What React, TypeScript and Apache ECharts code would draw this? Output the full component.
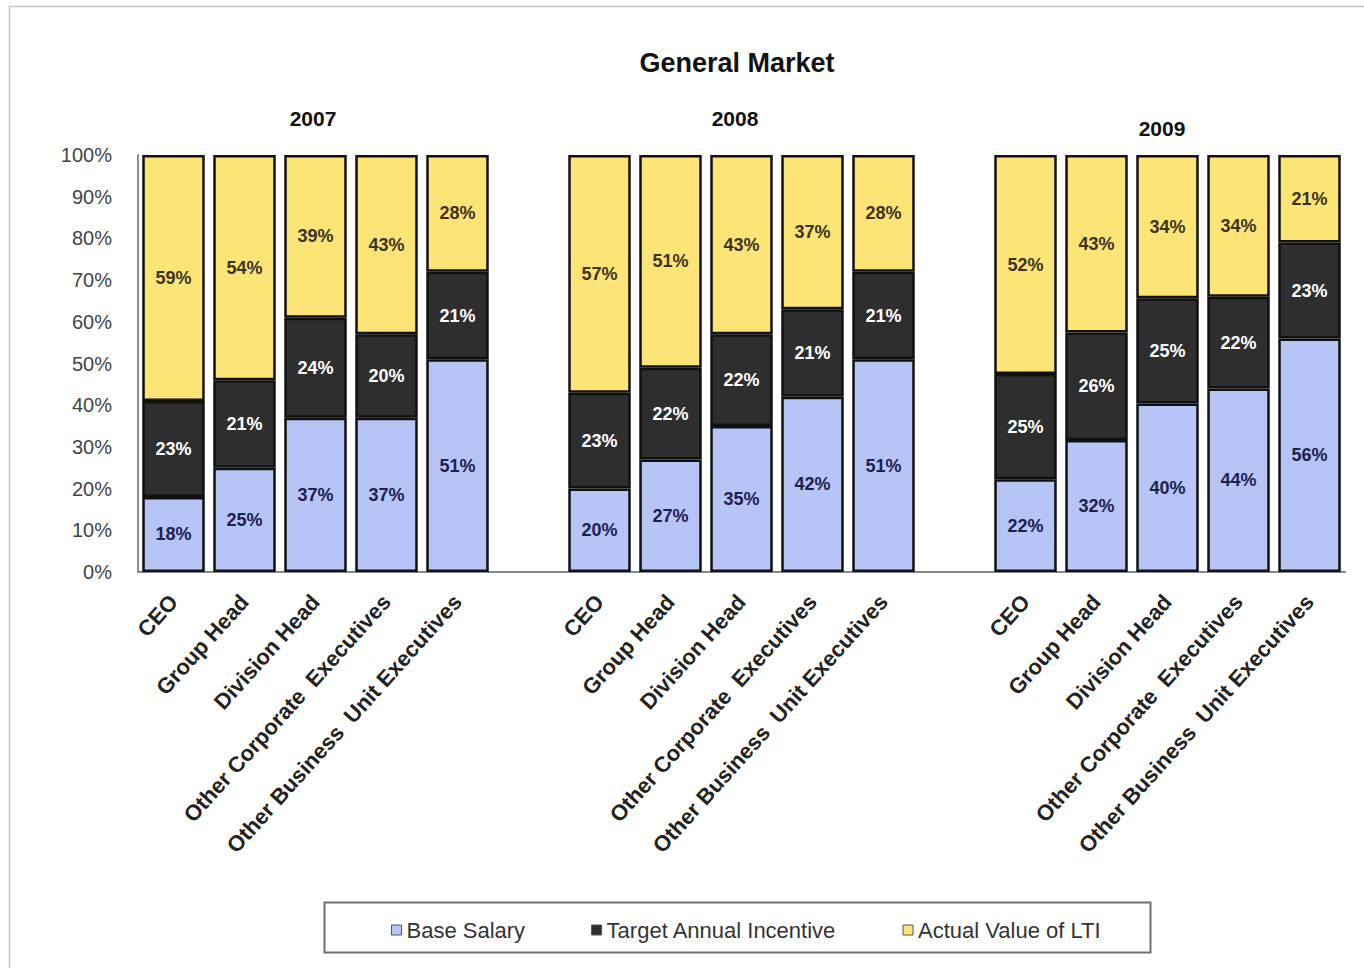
import React, { useEffect, useRef } from "react";
import * as echarts from "echarts";

const years = ["2007", "2008", "2009"];
const roles = [
  "CEO",
  "Group Head",
  "Division Head",
  "Other Corporate  Executives",
  "Other Business  Unit Executives",
];
const seriesNames = ["Base Salary", "Target Annual Incentive", "Actual Value of LTI"];
const baseSalary = [
  [18, 25, 37, 37, 51],
  [20, 27, 35, 42, 51],
  [22, 32, 40, 44, 56],
];
const targetIncentive = [
  [23, 21, 24, 20, 21],
  [23, 22, 22, 21, 21],
  [25, 26, 25, 22, 23],
];
const ltiValue = [
  [59, 54, 39, 43, 28],
  [57, 51, 43, 37, 28],
  [52, 43, 34, 34, 21],
];
const yTicks = [0, 10, 20, 30, 40, 50, 60, 70, 80, 90, 100];

const FONT = "'Liberation Sans', Arial, Helvetica, sans-serif";

export default function App() {
  const ref = useRef<HTMLDivElement>(null);
  useEffect(() => {
    if (!ref.current) return;
    const chart = echarts.init(ref.current, null, { renderer: "svg" });

    const categories: string[] = [];
    const groups = [baseSalary, targetIncentive, ltiValue];
    const seriesData: any[][] = [[], [], []];
    years.forEach((y, yi) => {
      roles.forEach((r, ri) => {
        categories.push(r);
        const sum = baseSalary[yi][ri] + targetIncentive[yi][ri] + ltiValue[yi][ri];
        groups.forEach((g, si) => {
          seriesData[si].push({ value: (g[yi][ri] * 100) / sum, raw: g[yi][ri] });
        });
      });
      if (yi < years.length - 1) {
        categories.push("");
        seriesData.forEach((s) => s.push("-"));
      }
    });

    const colors = ["#b7c5f6", "#2e2e2e", "#fde477"];
    const labelColors = ["#1d2150", "#ffffff", "#3b3520"];

    const series = seriesNames.map((name, si) => ({
      name,
      type: "bar",
      stack: "total",
      barCategoryGap: "12%",
      data: seriesData[si],
      itemStyle: { color: colors[si], borderColor: "#111", borderWidth: 2.5 },
      label: {
        show: true,
        position: "inside",
        formatter: (p: any) => (p.data && p.data.raw != null ? p.data.raw + "%" : ""),
        color: labelColors[si],
        fontFamily: FONT,
        fontWeight: "bold",
        fontSize: 18,
      },
    }));

    chart.setOption({
      animation: false,
      backgroundColor: "#ffffff",
      title: {
        text: "General Market",
        left: 732,
        top: 44,
        textAlign: "center",
        textStyle: { fontFamily: FONT, fontWeight: "bold", fontSize: 27, color: "#111" },
      },
      grid: { left: 138, right: 19, top: 155, bottom: 396, containLabel: false },
      xAxis: {
        type: "category",
        data: categories,
        axisLine: { show: true, lineStyle: { color: "#888", width: 2 } },
        axisTick: { show: false },
        axisLabel: {
          interval: 0,
          rotate: 48,
          margin: 26,
          fontFamily: FONT,
          fontWeight: "bold",
          fontSize: 22,
          color: "#222",
        },
      },
      yAxis: {
        type: "value",
        min: yTicks[0],
        max: yTicks[yTicks.length - 1],
        interval: 10,
        axisLine: { show: true, lineStyle: { color: "#8a8fa0", width: 2 } },
        axisTick: { show: false },
        splitLine: { show: false },
        axisLabel: {
          formatter: "{value}%",
          margin: 26,
          fontFamily: FONT,
          fontSize: 20,
          color: "#444",
        },
      },
      legend: {
        data: seriesNames,
        left: 386,
        top: 914,
        itemWidth: 10,
        itemHeight: 10,
        itemGap: 66,
        icon: "rect",
        textStyle: { fontFamily: FONT, fontSize: 22, color: "#333" },
        itemStyle: { borderColor: "#555", borderWidth: 1 },
      },
      graphic: [
        {
          type: "rect",
          left: 7,
          top: 4,
          shape: { width: 1362, height: 972 },
          style: { fill: "none", stroke: "#c4c4c4", lineWidth: 1.5 },
          silent: true,
        },
        {
          type: "rect",
          left: 322,
          top: 900,
          shape: { width: 826, height: 50 },
          style: { fill: "none", stroke: "#6e6e6e", lineWidth: 2 },
          silent: true,
        },
        ...years.map((y, i) => ({
          type: "text",
          x: [313, 735, 1162][i],
          y: [118, 118, 128][i],
          style: {
            text: y,
            textAlign: "center",
            textVerticalAlign: "middle",
            fontFamily: FONT,
            fontWeight: "bold",
            fontSize: 21,
            fill: "#111",
          },
        })),
      ],
      series,
    });
    return () => chart.dispose();
  }, []);
  return (
    <div
      ref={ref}
      style={{ position: "fixed", left: 0, top: 0, width: 1364, height: 968 }}
    />
  );
}
